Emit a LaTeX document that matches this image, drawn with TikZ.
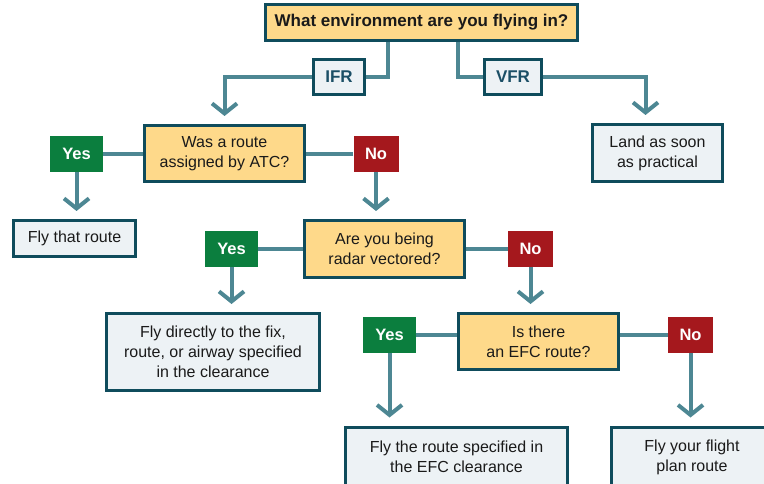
\documentclass[tikz,border=0pt]{standalone}
\usepackage{fontspec}
\setmainfont{Liberation Sans}
\usetikzlibrary{arrows.meta}
\definecolor{edgecol}{HTML}{0F4C5C}
\definecolor{qfill}{HTML}{FED98A}
\definecolor{afill}{HTML}{EDF2F5}
\definecolor{linkcol}{HTML}{4D8793}
\definecolor{yescol}{HTML}{0B7E3E}
\definecolor{nocol}{HTML}{A5181D}
\definecolor{envtext}{HTML}{1B4F66}
\definecolor{ink}{HTML}{1A1A1A}
\begin{document}
\begin{tikzpicture}[x = 1pt, y = -1pt,
        every node/.style = {align = center, inner sep = 0pt, text = ink,
            font = \fontsize{16}{20}\selectfont},
        question/.style = {draw = edgecol, fill = qfill, line width = 3pt},
        answer/.style = {draw = edgecol, fill = afill, line width = 3pt},
        envbox/.style = {draw = edgecol, fill = afill, line width = 3pt, text = envtext,
            font = \fontsize{17}{20}\selectfont\bfseries, minimum height = 35pt},
        yesbox/.style = {fill = yescol, text = white, minimum width = 53pt, minimum height = 36pt,
            font = \fontsize{16.5}{18}\selectfont\bfseries},
        nobox/.style = {fill = nocol, text = white, minimum width = 45pt, minimum height = 36pt,
            font = \fontsize{16.5}{18}\selectfont\bfseries},
        link/.style = {draw = linkcol, line width = 4pt},
        arr/.style = {link, -{Straight Barb[length = 10pt, width = 25pt]}, shorten > = 8pt}]
        \useasboundingbox (0,0) rectangle (764,484);
        \clip (0,0) rectangle (764,484);
        % question boxes
        \node[question, minimum width = 312pt, minimum height = 36pt,
            font = \fontsize{17}{20}\selectfont\bfseries] (title) at (421.5,22.5) {What environment are you flying in?};
        \node[question, minimum width = 160pt, minimum height = 56pt] (route) at (224.5,153.5) {Was a route\\assigned by ATC?};
        \node[question, minimum width = 160pt, minimum height = 57pt] (radar) at (384.5,249) {Are you being\\radar vectored?};
        \node[question, minimum width = 160pt, minimum height = 56pt] (efc) at (538.5,341.5) {Is there\\an EFC route?};
        % IFR / VFR
        \node[envbox, minimum width = 51pt] (ifr) at (339,77) {IFR};
        \node[envbox, minimum width = 57pt] (vfr) at (513,77) {VFR};
        % yes / no labels
        \node[yesbox] (yes1) at (76.5,154) {Yes};
        \node[nobox] (no1) at (376,154) {No};
        \node[yesbox] (yes2) at (231.5,249) {Yes};
        \node[nobox] (no2) at (530.5,249) {No};
        \node[yesbox] (yes3) at (389.5,335) {Yes};
        \node[nobox] (no3) at (690.5,335) {No};
        % answer boxes
        \node[answer, minimum width = 130pt, minimum height = 57pt] (land) at (657.5,153) {Land as soon\\as practical};
        \node[answer, minimum width = 122pt, minimum height = 36pt] (thatroute) at (74.5,238.5) {Fly that route};
        \node[answer, minimum width = 213pt, minimum height = 77pt] (direct) at (213,352) {Fly directly to the fix,\\route, or airway specified\\in the clearance};
        \node[answer, minimum width = 222pt, minimum height = 60pt] (efcroute) at (456.5,457) {Fly the route specified in\\the EFC clearance};
        \node[answer, minimum width = 161pt, minimum height = 60pt] (plan) at (692,457) {Fly your flight\\plan route};
        % connectors
        \draw[link] ([xshift = -33.5pt]title.south) |- (ifr.east);
        \draw[arr] (ifr.west) -| (route.north);
        \draw[link] ([xshift = 36.5pt]title.south) |- (vfr.west);
        \draw[arr] (vfr.east) -| ([xshift = -12pt]land.north);
        \draw[link] (yes1.east) -- (yes1.east -| route.west);
        \draw[arr] (yes1.south) -- (yes1.south |- thatroute.north);
        \draw[link] (no1.west) -- (no1.west -| route.east);
        \draw[arr] (no1.south) -- (no1.south |- radar.north);
        \draw[link] (yes2.east) -- (yes2.east -| radar.west);
        \draw[arr] (yes2.south) -- (yes2.south |- direct.north);
        \draw[link] (no2.west) -- (no2.west -| radar.east);
        \draw[arr] (no2.south) -- (no2.south |- efc.north);
        \draw[link] (yes3.east) -- (yes3.east -| efc.west);
        \draw[arr] (yes3.south) -- (yes3.south |- efcroute.north);
        \draw[link] (no3.west) -- (no3.west -| efc.east);
        \draw[arr] (no3.south) -- (no3.south |- plan.north);
    \end{tikzpicture}
\end{document}
